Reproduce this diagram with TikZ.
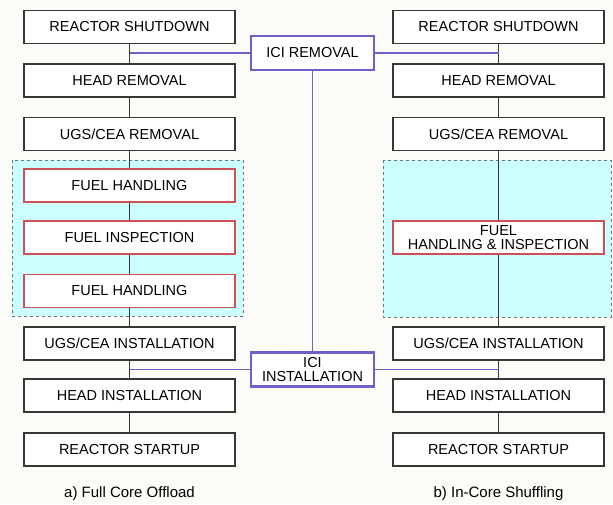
\documentclass[tikz,border=0pt]{standalone}
\usepackage{fontspec}
\setmainfont{Liberation Sans}
\usetikzlibrary{positioning}
\definecolor{bgC}{RGB}{251,251,248}
\definecolor{boxD}{RGB}{ 55, 55, 55}
\definecolor{fuelR}{RGB}{205, 80, 85}
\definecolor{iciP}{RGB}{112, 96,200}
\definecolor{poolC}{RGB}{204,255,255}
\definecolor{poolD}{RGB}{100,120,110}

\begin{document}
\begin{tikzpicture}[x=1pt, y=-1pt,
    stepbox/.style={draw=boxD, line width=1.8pt, fill=white, minimum width=211pt,
                    minimum height=33pt, inner sep=0pt, align=center,
                    font=\fontsize{14.5}{15}\selectfont},
    fuelbox/.style={stepbox, draw=fuelR},
    icibox/.style={stepbox, draw=iciP, line width=2.2pt, minimum width=123pt, minimum height=34pt},
    pool/.style={draw=poolD, dashed, line width=1pt, fill=poolC},
    link/.style={draw=boxD, line width=1.2pt},
    icilink/.style={draw=iciP, line width=1.8pt},
    captxt/.style={font=\fontsize{15}{16}\selectfont}
  ]
  \fill[bgC] (0,0) rectangle (613,504);
  \useasboundingbox (0,0) rectangle (613,504);

  % spent fuel pool areas
  \draw[pool] (12,160) rectangle (243,316);
  \draw[pool] (383,160) rectangle (611,317);

  % a) full core offload
  \node[stepbox] (lshut)  at (129.5,27)    {REACTOR SHUTDOWN};
  \node[stepbox] (lhead)  at (129.5,80.5)  {HEAD REMOVAL};
  \node[stepbox] (lugs)   at (129.5,134)   {UGS/CEA REMOVAL};
  \node[fuelbox] (lfh1)   at (129.5,185.5) {FUEL HANDLING};
  \node[fuelbox] (lfi)    at (129.5,237.5) {FUEL INSPECTION};
  \node[fuelbox] (lfh2)   at (129.5,291)   {FUEL HANDLING};
  \node[stepbox] (lugsi)  at (129.5,343.5) {UGS/CEA INSTALLATION};
  \node[stepbox] (lheadi) at (129.5,395.5) {HEAD INSTALLATION};
  \node[stepbox] (lstart) at (129.5,449.5) {REACTOR STARTUP};

  % b) in-core shuffling
  \node[stepbox] (rshut)  at (498.5,27)    {REACTOR SHUTDOWN};
  \node[stepbox] (rhead)  at (498.5,80.5)  {HEAD REMOVAL};
  \node[stepbox] (rugs)   at (498.5,134)   {UGS/CEA REMOVAL};
  \node[fuelbox] (rfhi)   at (498.5,237.5) {FUEL\\[-1pt]HANDLING \& INSPECTION};
  \node[stepbox] (rugsi)  at (498.5,343.5) {UGS/CEA INSTALLATION};
  \node[stepbox] (rheadi) at (498.5,395.5) {HEAD INSTALLATION};
  \node[stepbox] (rstart) at (498.5,449.5) {REACTOR STARTUP};

  % in-core instrumentation
  \node[icibox] (iciRem)  at (312.5,53)    {ICI REMOVAL};
  \node[icibox] (iciInst) at (312.5,369.5) {ICI\\[-1pt]INSTALLATION};

  \foreach \a/\b in {lshut/lhead, lhead/lugs, lugs/lfh1, lfh1/lfi, lfi/lfh2, lfh2/lugsi,
                     lugsi/lheadi, lheadi/lstart,
                     rshut/rhead, rhead/rugs, rugs/rfhi, rfhi/rugsi, rugsi/rheadi, rheadi/rstart}
    \draw[link] (\a) -- (\b);

  \draw[icilink] (iciRem.west) -- (iciRem.west -| lshut.south);
  \draw[icilink] (iciRem.east) -- (iciRem.east -| rshut.south);
  \draw[icilink] (iciRem.south) -- (iciInst.north);
  \draw[icilink] (iciInst.west) -- (iciInst.west -| lugsi.south);
  \draw[icilink] (iciInst.east) -- (iciInst.east -| rugsi.south);

  % captions
  \node[captxt] (capA) at (129.5,494) {a) Full Core Offload};
  \node[captxt] (capB) at (498.5,494) {b) In-Core Shuffling};
\end{tikzpicture}
\end{document}
